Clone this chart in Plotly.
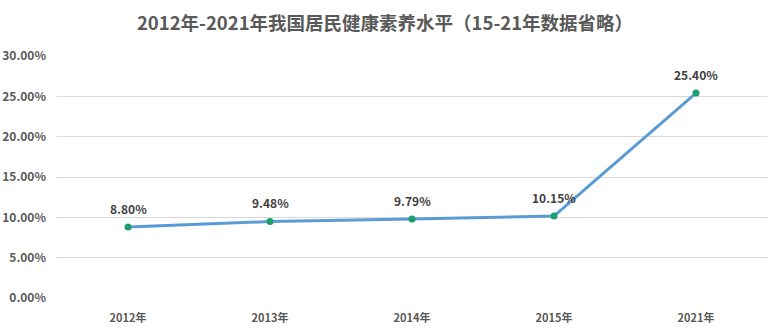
import plotly.graph_objects as go

years = ["2012年", "2013年", "2014年", "2015年", "2021年"]
values = [0.0880, 0.0948, 0.0979, 0.1015, 0.2540]
labels = ["8.80%", "9.48%", "9.79%", "10.15%", "25.40%"]
yticks = [0, 0.05, 0.10, 0.15, 0.20, 0.25, 0.30]
yticklabels = ["0.00%", "5.00%", "10.00%", "15.00%", "20.00%", "25.00%", "30.00%"]

font = "Noto Sans CJK SC"

fig = go.Figure()
fig.add_trace(go.Scatter(
    x=years, y=values, mode="lines+markers",
    line=dict(color="#5B9BD5", width=3),
    marker=dict(color="#1E9E6E", size=7),
    hoverinfo="skip", showlegend=False,
))
for x, y, t in zip(years, values, labels):
    fig.add_annotation(x=x, y=y, text="<b>%s</b>" % t, showarrow=False,
                       yshift=19, font=dict(family=font, size=12, color="#404040"))

fig.update_layout(
    width=770, height=333,
    margin=dict(l=57, r=3, t=56, b=35),
    paper_bgcolor="white", plot_bgcolor="white",
    title=dict(text="<b>2012年-2021年我国居民健康素养水平（15-21年数据省略）</b>",
               x=0.5, xanchor="center", y=0.93, yanchor="middle",
               font=dict(family=font, size=18.5, color="#595959")),
    xaxis=dict(type="category", range=[-0.5, 4.5], showgrid=False, showline=False, ticks="",
               tickfont=dict(family=font, size=11, color="#595959"),
               ticklabelstandoff=12),
    yaxis=dict(range=[0, 0.3], tickvals=yticks, ticktext=["<b>%s</b>" % s for s in yticklabels],
               showgrid=True, gridcolor="#D9D9D9", gridwidth=1, zeroline=False,
               showline=False, ticks="", ticklabelstandoff=10,
               tickfont=dict(family=font, size=12, color="#595959")),
)
fig.update_xaxes(ticktext=["<b>%s</b>" % y for y in years], tickvals=years)
fig.write_html("out.html")
